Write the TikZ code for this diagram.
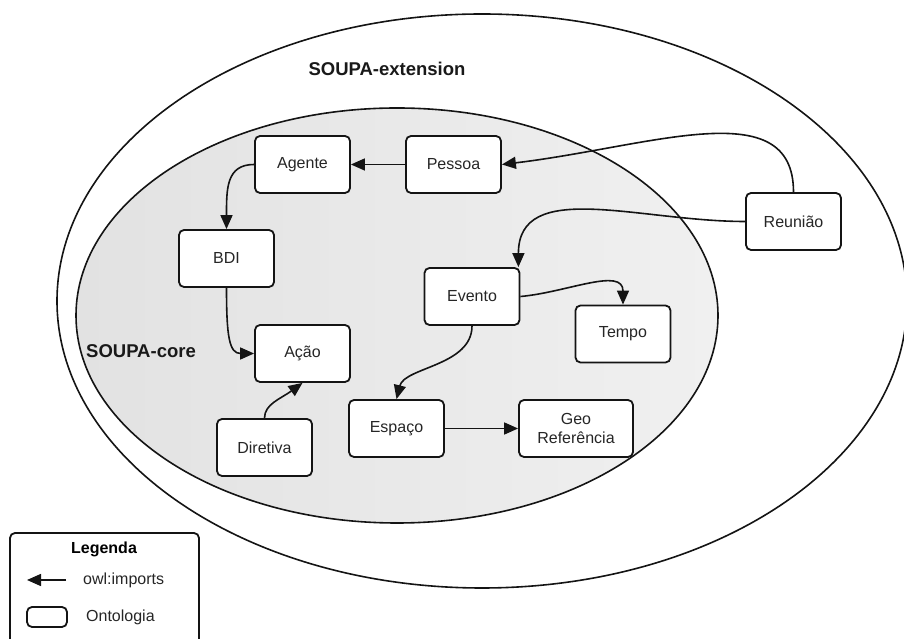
\documentclass[tikz,border=0pt]{standalone}
\usepackage{fontspec}
\setmainfont{Liberation Sans}
\usetikzlibrary{arrows.meta,calc}
\definecolor{coregray1}{RGB}{226,226,226}
\definecolor{coregray2}{RGB}{240,240,240}
\definecolor{ink}{RGB}{20,20,20}
\begin{document}
\begin{tikzpicture}[x=1pt,y=1pt,
  onto/.style={draw=ink, line width=1.8pt, rounded corners=5pt, fill=white,
    minimum width=95pt, minimum height=57pt, inner sep=0pt, align=center,
    font=\fontsize{16}{19}\selectfont, text=black!85},
  imp/.style={draw=ink, line width=1.6pt, -{Triangle[length=14pt,width=12pt]}},
  zone/.style={font=\bfseries\fontsize{18.5}{22}\selectfont, text=black!90},
  legtext/.style={font=\fontsize{16}{19}\selectfont, text=black!85, anchor=west, inner sep=0pt}]
\useasboundingbox (0,0) rectangle (904,639);

% nested ontology regions
\draw[ink, line width=1.6pt] (482,338) ellipse [x radius=425, y radius=287];
\shade[left color=coregray1, right color=coregray2] (397,323.5) ellipse [x radius=321, y radius=207.5];
\draw[ink, line width=1.6pt] (397,323.5) ellipse [x radius=321, y radius=207.5];

\node[zone] (ext) at (387,570) {SOUPA-extension};
\node[zone] (core) at (141,288) {SOUPA-core};

% ontologies
\node[onto] (ag)  at (302.5,474.5) {Agente};
\node[onto] (pes) at (453.5,474.5) {Pessoa};
\node[onto] (bdi) at (226.5,380.5) {BDI};
\node[onto] (evt) at (472,342.5)   {Evento};
\node[onto] (aca) at (302.5,285.5) {Ação};
\node[onto] (esp) at (396.5,210.5) {Espaço};
\node[onto, minimum width=114pt] (geo) at (576,210.5) {Geo\\Referência};
\node[onto] (reu) at (793.5,417.5) {Reunião};
\node[onto] (tmp) at (623,305)     {Tempo};
\node[onto] (dir) at (264.5,191.5) {Diretiva};

% owl:imports relations
\draw[imp] (pes.west) -- (ag.east);
\draw[imp] (ag.west) .. controls +(-28,0) and +(0,40) .. (bdi.north);
\draw[imp] (bdi.south) .. controls +(0,-48) and +(-25,0) .. (aca.west);
\draw[imp] (dir.north) .. controls +(0,14) and +(-22,-16) .. (aca.south);
\draw[imp] (reu.north) .. controls +(0,100) and +(150,18) .. (pes.east);
\draw[imp] (reu.west) .. controls +(-106,0) and +(0,89) .. ($(evt.north east)+(-2,0)$);
\draw[imp] (evt.east) .. controls +(46,4) and +(0,38) .. (tmp.north);
\draw[imp] (evt.south) .. controls +(0,-40) and +(8,32) .. (esp.north);
\draw[imp] (esp.east) -- (geo.west);

% legend
\draw[ink, line width=1.8pt, rounded corners=5pt, fill=white] (10,106) rectangle (199,-10);
\node[font=\bfseries\fontsize{16}{19}\selectfont] (leg) at (104,90) {Legenda};
\coordinate (ls) at (66,59);
\coordinate (le) at (27,59);
\draw[imp] (ls) -- (le);
\node[legtext] (limp) at (83,59) {owl:imports};
\node[draw=ink, line width=1.8pt, rounded corners=5pt, minimum width=40pt, minimum height=20pt, inner sep=0pt] (lbox) at (47,22) {};
\node[legtext] (lont) at (86,22) {Ontologia};
\end{tikzpicture}
\end{document}
